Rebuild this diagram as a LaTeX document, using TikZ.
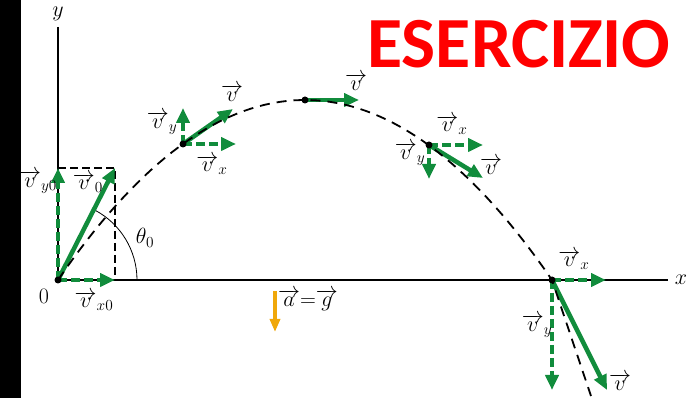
\RequirePackage{fix-cm}
\documentclass[tikz,border=0pt]{standalone}
\usepackage{fontspec}
\newfontfamily\titlefont{Carlito}
\usetikzlibrary{arrows.meta}
\definecolor{vgreen}{HTML}{118C3C}
\definecolor{agold}{HTML}{F0A80A}
\definecolor{titlered}{HTML}{FF0000}
\newcommand{\vv}[1]{\overrightarrow{#1}}
\tikzset{vel/.style={draw=vgreen,line width=4.5pt,-{Triangle[length=15pt,width=13pt]}},
  comp/.style={vel,dash pattern=on 9pt off 4pt},
  pdot/.style={circle,fill=black,inner sep=0pt,minimum size=7pt},
  traj/.style={line width=1.8pt,dash pattern=on 10pt off 7pt},
  guide/.style={line width=1.2pt,dash pattern=on 8pt off 4pt},
  axis/.style={line width=1.4pt},lbl/.style={inner sep=0pt}}

\begin{document}
\begin{tikzpicture}[x=1pt,y=-1pt,font=\fontsize{22}{22}\selectfont]
\useasboundingbox (0,0) rectangle (689,398);
\fill[black] (0,0) rectangle (21,398);
\node[lbl,font=\titlefont\bfseries\fontsize{72}{72}\selectfont,text=titlered] (title) at (519,44) {ESERCIZIO};
% axes
\coordinate (O) at (58,280); \coordinate (ytop) at (58,27); \coordinate (xend) at (668,280);
\draw[axis] (ytop) -- (O) -- (xend);
\node[lbl] (ylab) at (58,14) {$y$}; \node[lbl] (xlab) at (681,280) {$x$};
\node[lbl] (olab) at (44,296) {$0$};
\coordinate (P1) at (183,144); \coordinate (P2) at (305,100);
\coordinate (P3) at (429,145); \coordinate (P4) at (552,280); \coordinate (tail) at (591,396);
% launch
\coordinate (v0) at (115,168);
\draw[guide] (v0 -| O) -- (v0) -- (v0 |- O);
\draw[line width=.8pt] (O) ++(79,0) arc[start angle=0,end angle=-62,radius=79];
\draw[comp] (O) -- (v0 |- O); \draw[comp] (O) -- (v0 -| O); \draw[vel] (O) -- (v0);
\node[lbl] (lv0) at (88,183) {$\vv{v}_0$};
\node[lbl] (lvy0) at (38,182) {$\vv{v}_{y0}$};
\node[lbl] (lvx0) at (94,301) {$\vv{v}_{x0}$};
\node[lbl] (lth) at (145,238) {$\theta_0$};
% rising
\draw[comp] (P1) -- ++(53,0) coordinate (P1x); \draw[comp] (P1) -- ++(0,-36) coordinate (P1y);
\draw[vel] (P1) -- ++(50,-35) coordinate (P1v);
\node[lbl] (l1v) at (232,93) {$\vv{v}$}; \node[lbl] (l1y) at (162,123) {$\vv{v}_y$};
\node[lbl] (l1x) at (212,165) {$\vv{v}_x$};
% top
\draw[vel] (P2) -- ++(54,0) coordinate (P2v); \node[lbl] (l2v) at (356,82) {$\vv{v}$};
% falling
\draw[comp] (P3) -- ++(54,0) coordinate (P3x); \draw[comp] (P3) -- ++(0,34) coordinate (P3y);
\draw[vel] (P3) -- ++(54,33) coordinate (P3v);
\node[lbl] (l3x) at (452,125) {$\vv{v}_x$}; \node[lbl] (l3y) at (410,154) {$\vv{v}_y$};
\node[lbl] (l3v) at (491,166) {$\vv{v}$};
% landing
\draw[comp] (P4) -- ++(54,0) coordinate (P4x); \draw[comp] (P4) -- ++(0,110) coordinate (P4y);
\draw[vel] (P4) -- ++(55,110) coordinate (P4v);
\node[lbl] (l4x) at (574,260) {$\vv{v}_x$}; \node[lbl] (l4y) at (537,326) {$\vv{v}_y$};
\node[lbl] (l4v) at (620,382) {$\vv{v}$};
% trajectory
\draw[traj] plot[domain=58:552,samples=70] (\x,{280-180*(1-((\x-305)/247)^2)}) -- (tail);
\foreach \p in {O,P1,P2,P3,P4} \node[pdot] at (\p) {};
% acceleration
\coordinate (a0) at (275,291); \coordinate (a1) at (275,332);
\draw[draw=agold,line width=4pt,-{Triangle[length=13pt,width=10pt]}] (a0) -- (a1);
\node[lbl] (la) at (308,300) {$\vv{a}{=}\vv{g}$};
\end{tikzpicture}
\end{document}
